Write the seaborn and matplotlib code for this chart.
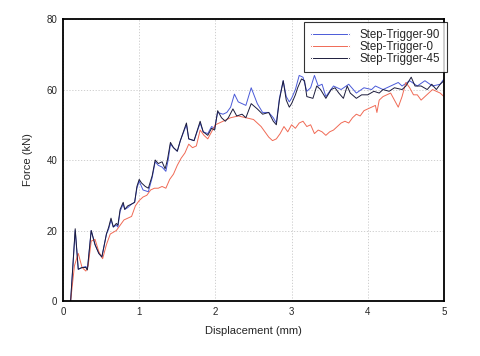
import matplotlib
matplotlib.use('Agg')
import matplotlib.pyplot as plt
import seaborn as sns
import pandas as pd

# Step-Trigger-45 (dark)
x45 = [0.10, 0.16, 0.20, 0.25, 0.30, 0.32, 0.37, 0.42, 0.47, 0.51, 0.57, 0.60, 0.63, 0.66,
       0.70, 0.72, 0.75, 0.79, 0.81, 0.85, 0.90, 0.94, 0.97, 1.00, 1.03, 1.08, 1.12, 1.17,
       1.21, 1.25, 1.30, 1.34, 1.37, 1.41, 1.45, 1.50, 1.54, 1.62, 1.65, 1.72, 1.80, 1.84,
       1.90, 1.95, 1.99, 2.03, 2.08, 2.13, 2.17, 2.23, 2.28, 2.35, 2.40, 2.47, 2.55, 2.62,
       2.70, 2.76, 2.80, 2.84, 2.89, 2.93, 2.97, 3.00, 3.05, 3.08, 3.13, 3.17, 3.20, 3.28,
       3.33, 3.38, 3.45, 3.52, 3.57, 3.62, 3.68, 3.73, 3.77, 3.85, 3.92, 4.00, 4.08, 4.15,
       4.20, 4.28, 4.35, 4.45, 4.50, 4.57, 4.62, 4.70, 4.78, 4.84, 4.90, 4.95, 5.00]
y45 = [0.0, 20.5, 9.0, 9.5, 9.5, 8.8, 20.0, 16.0, 13.5, 12.5, 19.0, 21.0, 23.5, 21.0,
       22.0, 21.5, 26.0, 28.0, 26.0, 27.0, 27.5, 28.0, 32.5, 34.5, 33.5, 32.5, 32.0, 35.5,
       40.0, 39.0, 39.5, 37.5, 40.0, 45.0, 43.5, 42.5, 45.5, 50.5, 46.0, 45.5, 51.0, 48.0,
       47.0, 49.0, 48.5, 54.0, 52.0, 51.0, 52.0, 54.5, 52.5, 53.0, 52.0, 56.0, 54.5, 53.0,
       53.5, 51.0, 50.0, 57.0, 62.5, 57.0, 55.0, 56.0, 58.5, 60.5, 63.0, 62.5, 58.0, 57.5,
       61.0, 60.0, 57.5, 60.0, 60.5, 59.0, 57.5, 61.0, 59.0, 57.5, 58.5, 58.5, 59.5, 59.0,
       60.0, 59.5, 60.5, 60.0, 61.0, 63.5, 61.0, 61.0, 60.0, 61.5, 60.0, 61.5, 62.5]

# Step-Trigger-90 (blue)
x90 = [0.10, 0.16, 0.20, 0.25, 0.30, 0.32, 0.37, 0.42, 0.47, 0.51, 0.57, 0.60, 0.63, 0.66,
       0.70, 0.72, 0.75, 0.79, 0.81, 0.85, 0.90, 0.94, 0.97, 1.00, 1.05, 1.12, 1.17, 1.21,
       1.25, 1.30, 1.35, 1.38, 1.41, 1.45, 1.50, 1.54, 1.62, 1.65, 1.72, 1.80, 1.84, 1.90,
       1.95, 1.99, 2.03, 2.10, 2.15, 2.20, 2.25, 2.30, 2.35, 2.40, 2.47, 2.55, 2.62, 2.70,
       2.76, 2.80, 2.84, 2.89, 2.93, 2.97, 3.00, 3.05, 3.10, 3.15, 3.20, 3.25, 3.30, 3.35,
       3.40, 3.45, 3.55, 3.65, 3.75, 3.85, 3.95, 4.05, 4.10, 4.20, 4.30, 4.40, 4.45, 4.55,
       4.65, 4.75, 4.85, 4.95, 5.00]
y90 = [0.0, 20.0, 9.0, 9.5, 9.8, 9.0, 20.0, 16.0, 13.5, 12.5, 19.0, 20.5, 23.0, 21.0,
       21.5, 21.0, 25.5, 27.5, 26.0, 26.5, 27.5, 28.0, 32.0, 34.0, 31.5, 31.0, 35.0, 39.5,
       38.5, 38.0, 36.8, 40.0, 44.5, 43.5, 42.5, 45.5, 50.0, 46.0, 45.5, 50.5, 48.0, 47.5,
       49.5, 49.0, 53.5, 53.0, 53.5, 55.0, 58.7, 56.5, 56.0, 55.5, 60.5, 56.0, 53.5, 53.5,
       52.0, 50.5, 57.5, 62.5, 58.0, 56.5, 57.5, 60.0, 64.0, 63.5, 59.5, 60.5, 64.0, 61.0,
       61.5, 58.0, 61.0, 60.0, 61.5, 59.0, 60.5, 60.0, 61.0, 60.0, 61.0, 62.0, 61.0, 62.5,
       61.0, 62.5, 61.0, 61.5, 63.0]

# Step-Trigger-0 (red)
x0 = [0.10, 0.15, 0.20, 0.25, 0.30, 0.33, 0.37, 0.42, 0.47, 0.52, 0.57, 0.62, 0.70, 0.75,
      0.80, 0.85, 0.90, 0.95, 1.00, 1.05, 1.10, 1.15, 1.20, 1.25, 1.30, 1.35, 1.40, 1.45,
      1.50, 1.55, 1.60, 1.65, 1.70, 1.75, 1.80, 1.85, 1.90, 1.95, 2.00, 2.05, 2.10, 2.20,
      2.30, 2.40, 2.50, 2.60, 2.65, 2.70, 2.75, 2.80, 2.85, 2.90, 2.95, 3.00, 3.05, 3.10,
      3.15, 3.20, 3.25, 3.30, 3.35, 3.40, 3.45, 3.50, 3.55, 3.60, 3.65, 3.70, 3.75, 3.80,
      3.85, 3.90, 3.95, 4.00, 4.05, 4.10, 4.12, 4.15, 4.20, 4.30, 4.35, 4.40, 4.45, 4.50,
      4.55, 4.60, 4.65, 4.70, 4.75, 4.80, 4.85, 4.90, 4.95, 5.00]
y0 = [0.0, 10.0, 13.5, 9.5, 8.5, 10.0, 17.0, 17.5, 14.0, 12.0, 16.0, 19.0, 20.0, 21.5,
      23.0, 23.5, 24.0, 27.0, 28.5, 29.5, 30.0, 31.5, 32.0, 32.0, 32.5, 32.0, 34.5, 36.0,
      38.5, 40.5, 42.0, 44.5, 43.5, 44.0, 48.5, 47.0, 46.0, 48.0, 50.0, 50.5, 51.0, 52.0,
      52.5, 52.0, 51.5, 49.5, 48.0, 46.5, 45.5, 46.0, 47.5, 49.5, 48.0, 50.0, 49.0, 50.5,
      51.0, 49.5, 50.0, 47.5, 48.5, 48.0, 47.0, 48.0, 48.5, 49.5, 50.5, 51.0, 50.5, 52.0,
      53.0, 52.5, 54.0, 54.5, 55.0, 55.5, 53.5, 57.0, 58.0, 59.0, 57.0, 55.0, 58.0, 62.0,
      60.5, 58.5, 58.5, 57.0, 58.0, 59.0, 60.0, 59.5, 59.0, 58.0]

series = [('Step-Trigger-90', x90, y90, '#4a5ad8'),
          ('Step-Trigger-0', x0, y0, '#f06a55'),
          ('Step-Trigger-45', x45, y45, '#1c1c3c')]

sns.set_style('white')
plt.rcParams['font.family'] = ['Liberation Sans', 'DejaVu Sans']

fig = plt.figure(figsize=(4.81, 3.56), dpi=100)
ax = fig.add_axes([0.131, 0.1545, 0.792, 0.792])

for name, xs, ys, col in series:
    df = pd.DataFrame({'x': xs, 'y': ys})
    sns.lineplot(data=df, x='x', y='y', ax=ax, color=col, linewidth=0.7, label=name)

ax.set_xlim(0, 5)
ax.set_ylim(0, 80)
ax.set_xticks([0, 1, 2, 3, 4, 5])
ax.set_yticks([0, 20, 40, 60, 80])
ax.grid(True, linestyle=(0, (1.5, 2)), color='#c8c8c8', linewidth=0.6)
ax.tick_params(length=0, labelsize=7, pad=4)
for sp in ax.spines.values():
    sp.set_color('black')
    sp.set_linewidth(1.3)
ax.set_xlabel('Displacement (mm)', fontsize=8, labelpad=7)
ax.set_ylabel('Force (kN)', fontsize=8, labelpad=10)

leg = ax.legend(loc='upper right', fontsize=8.3, frameon=True, fancybox=False,
                handlelength=3.3, handletextpad=0.9, borderpad=0.6, labelspacing=0.0,
                borderaxespad=0, bbox_to_anchor=(1.008, 0.99))
leg.get_frame().set_edgecolor('black')
leg.get_frame().set_linewidth(0.8)
for h in leg.get_lines():
    h.set_marker('o')
    h.set_markersize(1.5)
    h.set_markevery([0, -1])

fig.savefig('out.png', dpi=100)
